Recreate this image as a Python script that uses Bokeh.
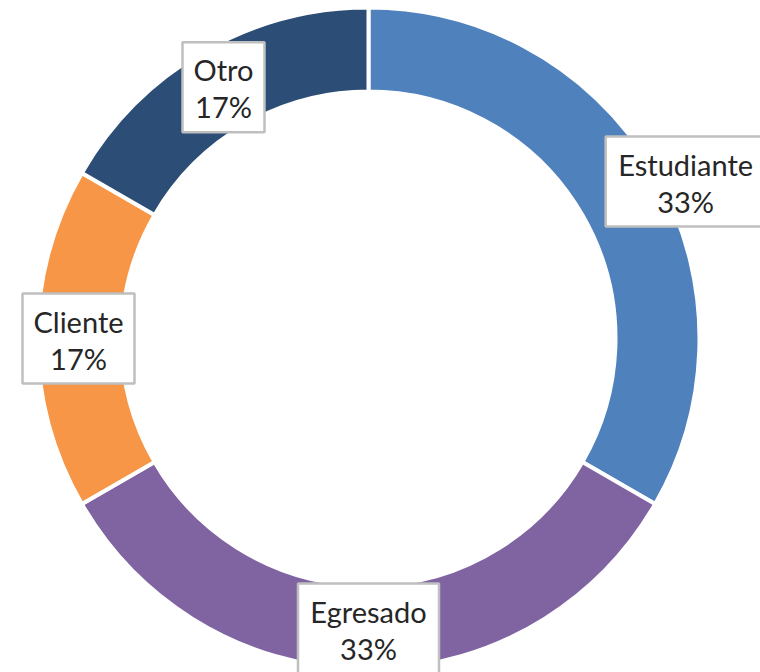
import math
from bokeh.plotting import figure
from bokeh.models import Range1d, ColumnDataSource
from bokeh.core.properties import value
from bokeh.embed import file_html
from bokeh.resources import INLINE

# ---- data ----
categories = ["Estudiante", "Egresado", "Cliente", "Otro"]
counts = [2, 2, 1, 1]
colors = ["#4F81BD", "#8064A2", "#F79646", "#2C4D75"]

# ---- layout ----
W, H = 760, 672
CX, CY = 368, H - 338
R_OUT, R_IN = 331, 247
LABEL_R = 290
FONT = "Lato"
FONT_SIZE = "29px"
LINE_GAP = 18.5
BOX_H = 90
BOX_PAD = 12
# manual nudges (Excel label moved by user)
label_offset = {"Estudiante": (66, 12)}
text_width_est = {"Estudiante": 136, "Egresado": 117, "Cliente": 88, "Otro": 58}

total = sum(counts)
starts, ends, mids = [], [], []
cum = 0
for c in counts:
    a0 = math.pi / 2 - 2 * math.pi * cum / total
    cum += c
    a1 = math.pi / 2 - 2 * math.pi * cum / total
    starts.append(a0)
    ends.append(a1)
    mids.append((a0 + a1) / 2)

pct = [f"{round(c / total * 100)}%" for c in counts]

lx, ly, bw = [], [], []
for cat, m in zip(categories, mids):
    dx, dy = label_offset.get(cat, (0, 0))
    lx.append(CX + LABEL_R * math.cos(m) + dx)
    ly.append(CY + LABEL_R * math.sin(m) + dy)
    bw.append(text_width_est[cat] + 2 * BOX_PAD)

wedges = ColumnDataSource(dict(start=starts, end=ends, color=colors))
labels = ColumnDataSource(dict(
    x=lx, y=ly, w=bw,
    y1=[y + LINE_GAP - 1 for y in ly], y2=[y - LINE_GAP - 1 for y in ly],
    name=categories, pct=pct))

p = figure(width=W, height=H, x_range=Range1d(0, W), y_range=Range1d(0, H),
           output_backend="svg", toolbar_location=None, min_border=0)
p.axis.visible = False
p.grid.visible = False
p.outline_line_color = None
p.background_fill_color = "white"
p.border_fill_color = "white"

p.annular_wedge(x=CX, y=CY, inner_radius=R_IN, outer_radius=R_OUT,
                start_angle="start", end_angle="end", direction="clock",
                fill_color="color", line_color="white", line_width=4,
                source=wedges)

p.rect(x="x", y="y", width="w", height=BOX_H, fill_color="white",
       line_color="#BFBFBF", line_width=2.5, source=labels)

p.text(x="x", y="y1", text="name", text_align="center", text_baseline="middle",
       text_font=value(FONT), text_font_size=FONT_SIZE, text_color="#262626",
       source=labels)
p.text(x="x", y="y2", text="pct", text_align="center", text_baseline="middle",
       text_font=value(FONT), text_font_size=FONT_SIZE, text_color="#262626",
       source=labels)

open("out.html", "w").write(file_html(p, INLINE))
